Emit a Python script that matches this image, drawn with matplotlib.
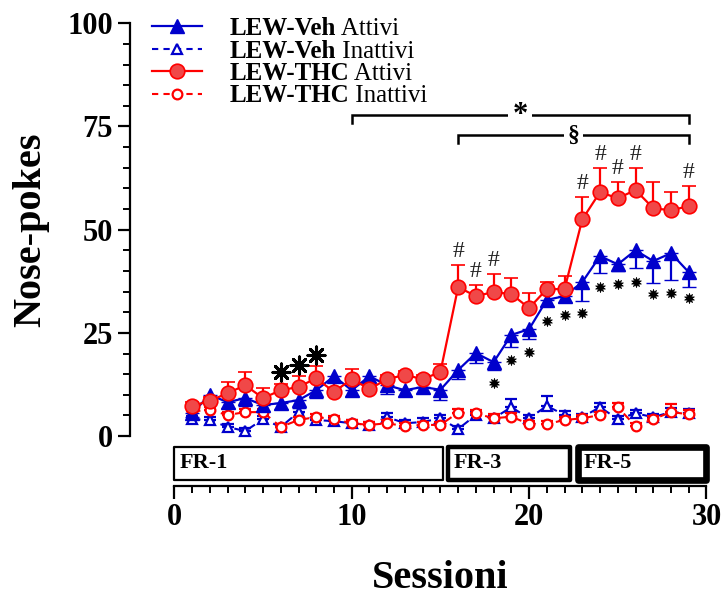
import matplotlib
matplotlib.use("Agg")
import matplotlib.pyplot as plt
from matplotlib.lines import Line2D
from matplotlib.patches import Rectangle
import numpy as np

# ---------------- data ----------------
sessions = list(range(1, 30))
veh_att = [5.5, 10.0, 8.2, 9.2, 7.5, 8.0, 8.7, 11.1, 14.5, 11.1, 14.5, 12.3, 11.1, 11.9, 11.2,
           16.0, 20.1, 17.9, 24.5, 25.9, 33.0, 33.9, 37.3, 43.6, 41.6, 45.0, 42.4, 44.3, 39.7]
veh_att_err = [1.0, 1.5, 1.5, 2.0, 1.5, 1.5, 2.0, 2.0, 2.5, 1.5, 1.5, 2.0, 1.5, 1.5, 2.4,
               2.2, 2.4, 2.0, 3.0, 2.4, 1.5, 1.5, 4.6, 4.2, 1.5, 4.3, 5.4, 6.5, 3.6]
thc_att = [7.3, 8.5, 10.4, 12.3, 9.2, 11.1, 11.9, 14.0, 10.7, 13.8, 11.4, 13.8, 14.8, 13.8, 15.5,
           36.1, 33.9, 34.9, 34.4, 31.0, 35.6, 35.6, 52.5, 59.1, 57.6, 59.6, 55.2, 54.7, 55.7]
thc_att_err = [1.0, 1.0, 2.7, 3.2, 2.4, 1.5, 2.6, 3.0, 1.0, 2.4, 1.0, 1.0, 1.0, 1.0, 2.0,
               5.3, 2.7, 4.3, 3.9, 3.6, 1.7, 3.1, 5.4, 5.8, 3.9, 5.3, 6.3, 4.4, 4.8]
veh_inatt = [4.1, 3.9, 2.2, 1.2, 4.1, 2.2, 5.8, 3.9, 3.6, 3.1, 2.7, 4.6, 3.1, 3.4, 4.3,
             1.7, 5.1, 4.3, 7.0, 4.3, 7.3, 5.1, 4.6, 7.0, 4.1, 5.5, 4.6, 5.8, 5.5]
veh_inatt_err = [0.8, 0.8, 0.8, 0.8, 0.8, 0.8, 1.0, 0.8, 0.8, 0.8, 0.8, 1.0, 0.8, 1.0, 0.8,
                 0.8, 1.0, 0.8, 2.0, 0.8, 2.3, 1.0, 0.8, 1.0, 0.8, 0.8, 0.8, 1.0, 1.0]
thc_inatt = [6.0, 6.3, 5.1, 5.8, 5.8, 2.2, 3.9, 4.6, 4.1, 3.1, 2.7, 3.1, 2.4, 2.7, 2.7,
             5.7, 5.5, 4.3, 4.7, 2.9, 2.9, 3.9, 4.3, 5.1, 7.0, 2.4, 4.1, 5.8, 5.3]
thc_inatt_err = [0.8, 0.8, 0.8, 0.8, 0.8, 0.8, 0.8, 0.8, 0.8, 0.8, 0.8, 0.8, 0.8, 0.8, 0.8,
                 0.8, 0.8, 1.0, 0.8, 0.8, 0.8, 0.8, 0.8, 0.8, 1.0, 0.8, 0.8, 2.0, 1.0]

# significance marks
big_star_sessions = [6, 7, 8]
big_star_y = [15.5, 17.2, 19.6]
small_star_sessions = [18, 19, 20, 21, 22, 23, 24, 25, 26, 27, 28, 29]
small_star_y = [12.8, 18.4, 20.3, 27.8, 29.3, 29.8, 36.1, 36.8, 37.3, 34.4, 34.6, 33.4]
hash_sessions = [16, 17, 18, 23, 24, 25, 26, 29]

bracket_labels = ["*", "§"]
bracket_start = [10, 16]
bracket_end = [29, 29]
bracket_y = [77.7, 72.9]

phase_names = ["FR-1", "FR-3", "FR-5"]

legend_bold = ["LEW-Veh", "LEW-Veh", "LEW-THC", "LEW-THC"]
legend_rest = ["Attivi", "Inattivi", "Attivi", "Inattivi"]

# ---------------- style ----------------
SERIF = ["Liberation Serif", "DejaVu Serif"]
plt.rcParams["font.family"] = SERIF
BLUE = "#0000CC"
RED = "#FF0000"
RED_FILL = "#F04848"

fig = plt.figure(figsize=(7.22, 5.97), dpi=100)
W, H = 722, 597
ax = fig.add_axes([130 / W, (H - 486) / H, 580 / W, (486 - 23.3) / H])
ax.set_xlim(-2.5, 30.2)
ax.set_ylim(-12.1, 100)

s = np.array(sessions)
zeros = np.zeros(len(s))

# inactive
ax.errorbar(s, veh_inatt, yerr=[zeros, veh_inatt_err], color=BLUE, ls=(0, (4, 3)), lw=1.5,
            marker="^", ms=6.5, mfc="white", mec=BLUE, mew=1.6,
            ecolor=BLUE, elinewidth=1.5, capsize=4.5, capthick=2.2, zorder=3)
ax.errorbar(s, thc_inatt, yerr=[zeros, thc_inatt_err], color=RED, ls=(0, (4, 3)), lw=1.5,
            marker="o", ms=7, mfc="white", mec=RED, mew=1.6,
            ecolor=RED, elinewidth=1.5, capsize=4.5, capthick=2.2, zorder=4)
# active
ax.errorbar(s, veh_att, yerr=[veh_att_err, zeros], color=BLUE, ls="-", lw=1.6,
            marker="^", ms=10.5, mfc=BLUE, mec=BLUE, mew=1,
            ecolor=BLUE, elinewidth=1.6, capsize=5, capthick=2.2, zorder=5)
ax.errorbar(s, thc_att, yerr=[zeros, thc_att_err], color=RED, ls="-", lw=1.6,
            marker="o", ms=10.5, mfc=RED_FILL, mec=RED, mew=1.2,
            ecolor=RED, elinewidth=1.6, capsize=5, capthick=2.2, zorder=6)

# stars
ax.scatter(big_star_sessions, big_star_y, marker=(8, 2, 0), s=150, color="black", lw=2.2, zorder=7)
ax.scatter(small_star_sessions, small_star_y, marker=(10, 1, 0), s=55, color="black", lw=0.5, zorder=7)

# hashes above THC error caps
for hs in hash_sessions:
    i = sessions.index(hs)
    ax.text(hs, thc_att[i] + thc_att_err[i] + 0.8, "#", ha="center", va="bottom",
            fontsize=17, color="#222222", zorder=8)

# brackets
for lab, x0, x1, yb in zip(bracket_labels, bracket_start, bracket_end, bracket_y):
    ax.plot([x0, x0, x1, x1], [yb - 1.9, yb, yb, yb - 1.9], color="black", lw=1.8,
            solid_joinstyle="miter", zorder=7)
    xm = x0 + (x1 - x0) * 0.5
    fs = 22 if lab == "*" else 17
    ax.text(xm, yb, lab, ha="center", va="center", fontsize=fs, fontweight="bold",
            bbox=dict(boxstyle="square,pad=0.15", fc="white", ec="none"), zorder=8)

# phase boxes
phase_left = [0.0, 15.42, 22.75]
phase_right = [15.12, 22.28, 29.98]
phase_lw = [1.6, 3.2, 4.8]
box_bottom, box_top = -10.6, -2.6
for name, l, r, lw in zip(phase_names, phase_left, phase_right, phase_lw):
    ax.add_patch(Rectangle((l, box_bottom), r - l, box_top - box_bottom, fill=False,
                           ec="black", lw=lw, joinstyle="round", clip_on=False, zorder=5))
    ax.text(l + 0.3, (box_bottom + box_top) / 2, name, ha="left", va="center",
            fontsize=16, fontweight="bold")

# axes styling
for sp in ["top", "right"]:
    ax.spines[sp].set_visible(False)
ax.spines["left"].set_bounds(0, 100)
ax.spines["bottom"].set_bounds(0, 30)
ax.spines["left"].set_linewidth(1.6)
ax.spines["bottom"].set_linewidth(1.6)
ax.set_yticks([0, 25, 50, 75, 100])
ax.set_yticks(np.arange(0, 101, 5), minor=True)
ax.set_xticks([0, 10, 20, 30])
ax.set_xticks(np.arange(0, 31, 1), minor=True)
ax.tick_params(axis="both", which="major", length=9, width=1.6, direction="out",
               labelsize=22, pad=3.5)
ax.tick_params(axis="both", which="minor", length=5, width=1.4, direction="out")
for lbl in ax.get_xticklabels() + ax.get_yticklabels():
    lbl.set_fontweight("bold")
ax.set_ylabel("Nose-pokes", fontsize=29, fontweight="bold")
ax.set_xlabel("Sessioni", fontsize=29, fontweight="bold")
ax.yaxis.set_label_coords(-0.14, 0.553)
ax.xaxis.set_label_coords(0.534, -0.159)

# legend
handles = [
    Line2D([], [], color=BLUE, lw=1.6, marker="^", ms=10.5, mfc=BLUE, mec=BLUE),
    Line2D([], [], color=BLUE, lw=1.5, ls=(0, (3, 2.5)), marker="^", ms=6.5, mfc="white", mec=BLUE, mew=1.6),
    Line2D([], [], color=RED, lw=1.6, marker="o", ms=10.5, mfc=RED_FILL, mec=RED, mew=1.2),
    Line2D([], [], color=RED, lw=1.5, ls=(0, (3, 2.5)), marker="o", ms=7, mfc="white", mec=RED, mew=1.6),
]
LEG_FS = 18
leg = ax.legend(handles, legend_bold, loc="upper left", bbox_to_anchor=(152 / W, 1 - 17 / H),
                bbox_transform=fig.transFigure, frameon=False, fontsize=LEG_FS,
                handlelength=2.0, handletextpad=1.1, labelspacing=-0.02, borderpad=0,
                borderaxespad=0)
for t in leg.get_texts():
    t.set_fontweight("bold")

fig.canvas.draw()
for t, rest in zip(leg.get_texts(), legend_rest):
    bb = t.get_window_extent()
    fig.text(bb.x1, bb.y0, " " + rest, transform=None, ha="left", va="bottom",
             fontsize=LEG_FS)

fig.savefig("out.png", dpi=100)
